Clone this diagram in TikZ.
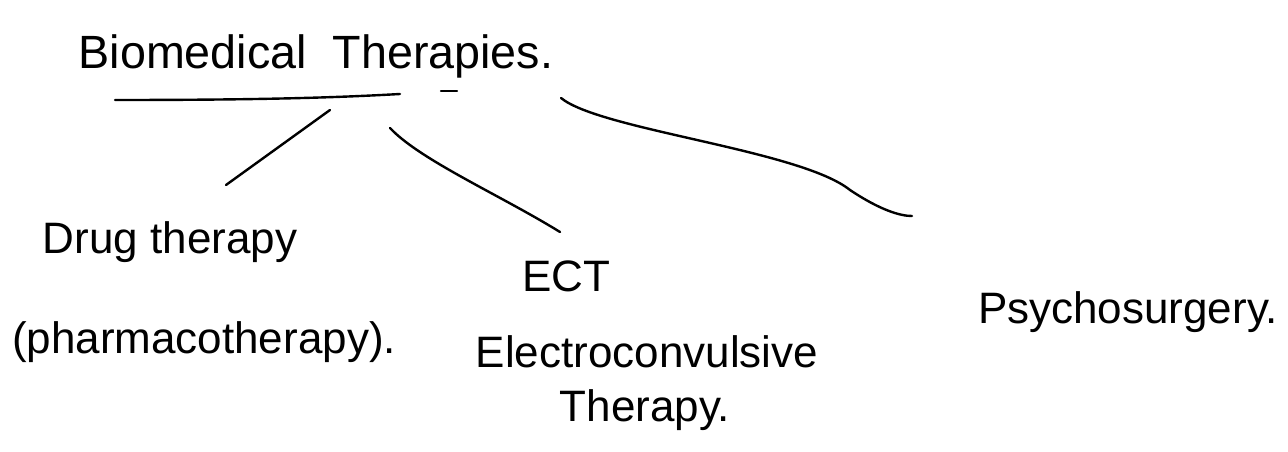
\documentclass[tikz,border=0pt]{standalone}
\usepackage{fontspec}
\setmainfont{Liberation Sans}
\begin{document}
\begin{tikzpicture}[x=0.75pt,y=-0.75pt,
  lbl/.style={font=\fontsize{33}{38}\selectfont, inner sep=0pt, anchor=center},
  conn/.style={line width=1.8pt, line cap=round}]
\useasboundingbox[fill=white] (0,0) rectangle (1288,452);
\node[lbl, font=\fontsize{35}{40}\selectfont] (root) at (316,56) {Biomedical\ \ Therapies.};
\node[lbl] (drug) at (170,242) {Drug therapy};
\node[lbl] (pharma) at (204,342) {(pharmacotherapy).};
\node[lbl] (ect) at (566,276) {ECT};
\node[lbl] (elec) at (647,352) {Electroconvulsive};
\node[lbl] (ther) at (645,410) {Therapy.};
\node[lbl] (psy) at (1128,312) {Psychosurgery.};
\coordinate (u1) at (115,100);
\coordinate (u2) at (400,94);
\coordinate (d1) at (441,91);
\coordinate (d2) at (457,91);
\coordinate (a1) at (330,110);
\coordinate (a2) at (226,185);
\coordinate (b1) at (390,128);
\coordinate (b2) at (560,232);
\coordinate (c1) at (561,98);
\coordinate (c2) at (912,216);
\draw[conn] (u1) .. controls (250,100) and (330,98) .. (u2);
\draw[conn] (d1) -- (d2);
\draw[conn] (a1) -- (a2);
\draw[conn] (b1) .. controls (420,160) and (500,195) .. (b2);
\draw[conn] (c1) .. controls (600,130) and (800,150) .. (850,190) .. controls (880,210) and (900,216) .. (c2);
\end{tikzpicture}
\end{document}
